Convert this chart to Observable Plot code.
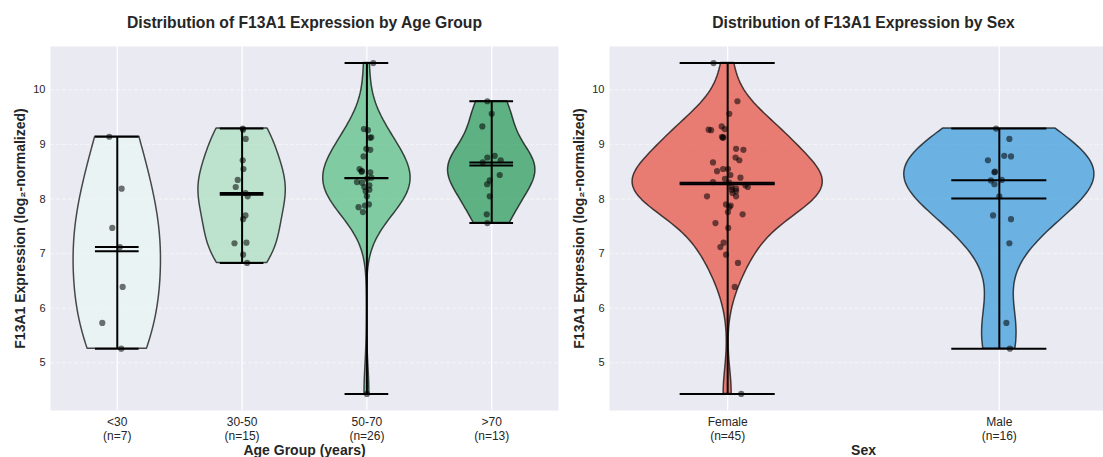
<!DOCTYPE html>
<html><head><meta charset="utf-8">
<script src="https://cdn.jsdelivr.net/npm/d3@7"></script>
<script src="https://cdn.jsdelivr.net/npm/@observablehq/plot@0.6"></script>
<style>
html,body{margin:0;padding:0;background:#fff;overflow:hidden}
#wrap{position:relative;width:1103px;height:457px;overflow:hidden}
#left{position:absolute;left:0;top:0;width:560px}
#right{position:absolute;left:560px;top:0;width:557px}
#wrap svg{max-width:none !important}
</style></head><body><div id="wrap"><div id="left"></div><div id="right"></div></div>
<script>
// ---- data ----
const ageGroups = ["<30", "30-50", "50-70", ">70"];
const ageUnder30 = [9.14, 8.19, 7.47, 7.12, 6.39, 5.73, 5.26];
const age30to50 = [9.29, 9.27, 9.10, 8.71, 8.55, 8.35, 8.22, 8.11, 8.05, 7.70, 7.63, 7.19, 7.20, 6.98, 6.83];
const age50to70 = [10.49, 9.28, 9.26, 9.13, 9.12, 8.92, 8.90, 8.78, 8.55, 8.51, 8.50, 8.49, 8.39, 8.37, 8.31, 8.30, 8.25, 8.22, 8.17, 8.14, 8.05, 7.90, 7.88, 7.85, 7.76, 4.43];
const ageOver70 = [9.79, 9.56, 9.33, 8.79, 8.76, 8.71, 8.67, 8.44, 8.34, 8.27, 8.05, 7.72, 7.56];
// horizontal jitter of the dots (in category units)
const jitUnder30 = [-0.064, 0.035, -0.040, 0.021, 0.043, -0.120, 0.032];
const jit30to50 = [0.005, 0.008, 0.029, 0.005, 0.011, -0.035, -0.051, 0.027, 0.045, 0.027, 0.008, -0.061, 0.035, 0.008, 0.040];
const jit50to70 = [0.051, -0.024, 0.008, 0.035, 0.025, -0.005, 0.027, -0.027, -0.059, -0.040, -0.043, 0.027, 0.035, 0.0, -0.08, -0.04, 0.02, -0.021, 0.02, -0.01, 0.0, 0.016, -0.016, -0.067, -0.032, 0.0];
const jitOver70 = [-0.035, 0.0, -0.075, 0.024, -0.035, 0.072, -0.072, 0.064, -0.016, -0.037, -0.016, -0.040, -0.035];

const sexGroups = ["Female", "Male"];
const female = [10.49, 9.79, 9.56, 9.33, 9.28, 9.27, 9.26, 9.14, 9.13, 9.12, 8.92, 8.90, 8.76, 8.71, 8.67, 8.55, 8.55, 8.51, 8.44, 8.39, 8.37, 8.31, 8.30, 8.25, 8.22, 8.22, 8.19, 8.17, 8.14, 8.11, 8.05, 8.05, 7.90, 7.88, 7.85, 7.76, 7.72, 7.56, 7.47, 7.20, 7.12, 6.98, 6.83, 6.39, 4.43];
const male = [9.29, 9.10, 8.79, 8.78, 8.71, 8.50, 8.49, 8.35, 8.34, 8.27, 8.05, 7.70, 7.63, 7.19, 5.73, 5.26];
const jitFemale = [-0.052, 0.036, 0.006, -0.022, -0.011, -0.070, -0.061, -0.021, -0.016, -0.018, 0.031, 0.058, 0.029, 0.043, -0.054, -0.017, 0.001, -0.039, 0.010, 0.047, -0.010, -0.054, 0.005, 0.065, 0.074, 0.015, 0.031, 0.015, 0.031, 0.018, 0.031, -0.076, -0.006, 0.011, 0.006, 0.001, 0.055, -0.045, 0.002, -0.015, -0.027, -0.006, 0.038, 0.026, 0.050];
const jitMale = [-0.012, 0.037, 0.018, 0.043, -0.042, -0.016, -0.018, 0.009, -0.031, -0.018, 0.0, -0.023, 0.043, 0.037, 0.026, 0.039];

const yTicks = [5, 6, 7, 8, 9, 10];
const ageColors = ["#e8f6f3", "#a9dfbf", "#52be80", "#229954"];
const sexColors = ["#e74c3c", "#3498db"];
const yLabel = "F13A1 Expression (log\u2082-normalized)";

// ---- helpers ----
const HALF = 0.35;   // violin half width (widths = 0.7)
const CAP = 0.175;   // cap half length
function kdeRows(values, pos) {
  const n = values.length;
  const bw = d3.deviation(values) * Math.pow(n, -0.2);
  const [lo, hi] = d3.extent(values);
  const ys = d3.range(100).map(i => lo + (hi - lo) * i / 99);
  const dens = ys.map(y => d3.sum(values, v => Math.exp(-0.5 * ((y - v) / bw) ** 2)));
  const m = d3.max(dens);
  return ys.map((y, i) => ({y, x1: pos - dens[i] / m * HALF, x2: pos + dens[i] / m * HALF}));
}
const allVals = [ageUnder30, age30to50, age50to70, ageOver70].flat();
const [vmin, vmax] = d3.extent(allVals);
const pad = (vmax - vmin) * 0.05;
const yDomain = [vmin - pad, vmax + pad];
const FONT = "Liberation Sans, Arial, Helvetica, sans-serif";
const INK = "#262626";

function panel({groups, series, jitters, colors, width, marginLeft, marginRight, xDomain, title, xLabel}) {
  const stats = series.map((vals, i) => ({
    pos: i + 1, min: d3.min(vals), max: d3.max(vals), mean: d3.mean(vals), median: d3.median(vals)
  }));
  const dots = series.flatMap((vals, i) => vals.map((v, j) => ({x: i + 1 + jitters[i][j], y: v})));
  const positions = groups.map((g, i) => i + 1);
  const marks = [
    Plot.frame({fill: "#eaeaf2", stroke: null}),
    Plot.gridY(yTicks, {stroke: "white", strokeOpacity: 0.55, strokeWidth: 1, strokeDasharray: "4,2"}),
    Plot.gridX(positions, {stroke: "white", strokeOpacity: 1, strokeWidth: 1.2}),
  ];
  series.forEach((vals, i) => {
    marks.push(Plot.areaX(kdeRows(vals, i + 1), {
      y: "y", x1: "x1", x2: "x2", fill: colors[i], fillOpacity: 0.7,
      stroke: "black", strokeOpacity: 0.7, strokeWidth: 1.5, curve: "linear"
    }));
  });
  const rule = {stroke: "black", strokeWidth: 2};
  marks.push(Plot.ruleX(stats, {x: "pos", y1: "min", y2: "max", ...rule}));
  for (const k of ["min", "max", "mean", "median"]) {
    marks.push(Plot.ruleY(stats, {y: k, x1: d => d.pos - CAP, x2: d => d.pos + CAP, ...rule}));
  }
  marks.push(Plot.dot(dots, {x: "x", y: "y", r: 3.1, fill: "black", fillOpacity: 0.55, stroke: null}));
  marks.push(Plot.axisY(yTicks, {tickSize: 0, tickPadding: 5, fontSize: 11, fill: INK, label: null, tickFormat: d3.format("d")}));
  marks.push(Plot.axisX(positions, {
    tickSize: 0, tickPadding: 5, fontSize: 12, fill: INK, label: null, lineHeight: 1.2,
    tickFormat: p => `${groups[p - 1]}\n(n=${series[p - 1].length})`
  }));
  marks.push(Plot.text([title], {frameAnchor: "top", dy: -24, fontSize: 15.7, fontWeight: "bold", fill: INK, lineAnchor: "middle", textAnchor: "middle"}));
  marks.push(Plot.text([yLabel], {frameAnchor: "left", dx: -30, rotate: -90, fontSize: 14, fontWeight: "bold", fill: INK, textAnchor: "middle", lineAnchor: "middle"}));
  marks.push(Plot.text([xLabel], {frameAnchor: "bottom", dy: 40, fontSize: 14, fontWeight: "bold", fill: INK, textAnchor: "middle", lineAnchor: "middle"}));
  return Plot.plot({
    width, height: 457, marginLeft, marginRight, marginTop: 46, marginBottom: 47,
    style: {fontFamily: FONT, background: "transparent", overflow: "visible", maxWidth: "none"},
    x: {type: "linear", domain: xDomain},
    y: {domain: yDomain},
    marks
  });
}

document.getElementById("left").appendChild(panel({
  groups: ageGroups,
  series: [ageUnder30, age30to50, age50to70, ageOver70],
  jitters: [jitUnder30, jit30to50, jit50to70, jitOver70],
  colors: ageColors, width: 560, marginLeft: 50, marginRight: 2,
  xDomain: [0.465, 4.535],
  title: "Distribution of F13A1 Expression by Age Group", xLabel: "Age Group (years)"
}));
document.getElementById("right").appendChild(panel({
  groups: sexGroups,
  series: [female, male],
  jitters: [jitFemale, jitMale],
  colors: sexColors, width: 557, marginLeft: 49, marginRight: 0,
  xDomain: [0.565, 2.435],
  title: "Distribution of F13A1 Expression by Sex", xLabel: "Sex"
}));
</script></body></html>
